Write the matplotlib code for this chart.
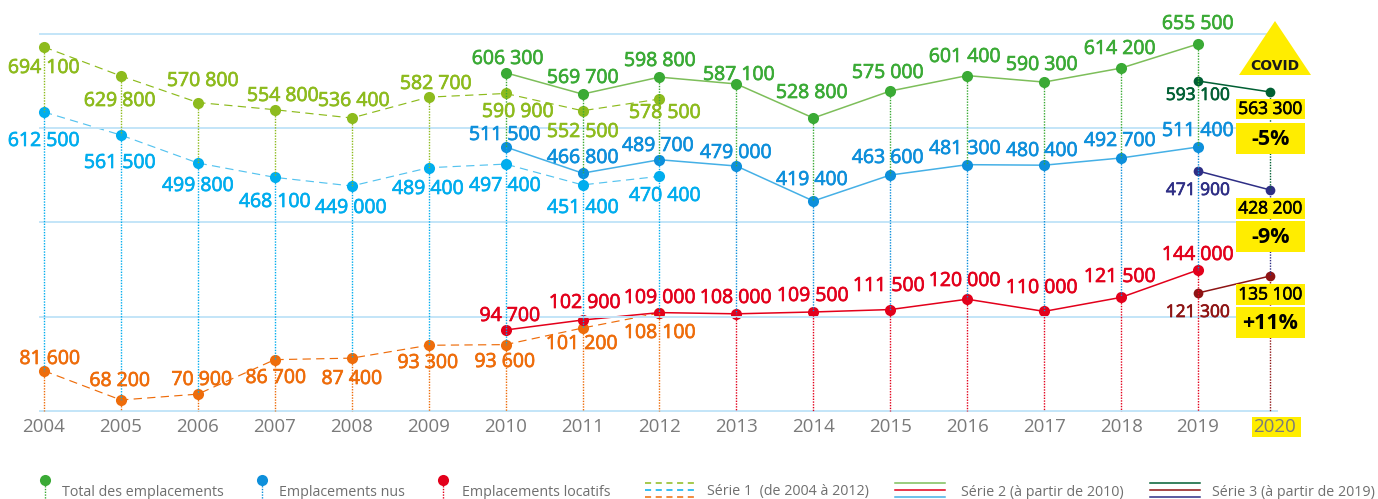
import matplotlib
matplotlib.use("Agg")
import numpy as np
import matplotlib.pyplot as plt
import matplotlib.patheffects as pe
from matplotlib.patches import Polygon, Rectangle

plt.rcParams['font.family'] = ['Open Sans', 'DejaVu Sans']

years = list(range(2004, 2021))
years_s1 = list(range(2004, 2013))
years_s2 = list(range(2010, 2020))
years_s3 = [2019, 2020]

total_s1 = [694100, 629800, 570800, 554800, 536400, 582700, 590900, 552500, 578500]
nus_s1 = [612500, 561500, 499800, 468100, 449000, 489400, 497400, 451400, 470400]
loc_s1 = [81600, 68200, 70900, 86700, 87400, 93300, 93600, 101200, 108100]

total_s2 = [606300, 569700, 598800, 587100, 528800, 575000, 601400, 590300, 614200, 655500]
nus_s2 = [511500, 466800, 489700, 479000, 419400, 463600, 481300, 480400, 492700, 511400]
loc_s2 = [94700, 102900, 109000, 108000, 109500, 111500, 120000, 110000, 121500, 144000]

total_s3 = [593100, 563300]
nus_s3 = [471900, 428200]
loc_s3 = [121300, 135100]

# chaque courbe a sa propre echelle dans l'original : (valeur, pixel) x 2
scales = {
    'total_s1': (694100, 47, 536400, 118),
    'nus_s1': (612500, 112, 449000, 186),
    'loc_s1': (108100, 313, 68200, 400),
    'total_s2': (655500, 44, 528800, 118),
    'nus_s2': (511400, 147, 419400, 201),
    'loc_s2': (144000, 270, 94700, 330),
    'total_s3': (593100, 81, 563300, 92),
    'nus_s3': (471900, 171, 428200, 190),
    'loc_s3': (121300, 293, 135100, 276),
}

# centre des etiquettes, en pixels
lab_total_s1 = [(44, 67), (120, 100), (203, 80), (283, 95), (354, 100), (436, 83), (518, 111), (583, 131), (665, 112)]
lab_nus_s1 = [(44, 140), (120, 162), (198, 185), (275, 201), (351, 207), (428, 188), (505, 185), (583, 207), (665, 195)]
lab_loc_s1 = [(50, 358), (120, 380), (202, 379), (276, 377), (352, 378), (428, 362), (505, 361), (582, 343), (660, 332)]
lab_total_s2 = [(508, 58), (583, 77), (660, 60), (739, 74), (812, 92), (888, 72), (965, 56), (1042, 64), (1120, 48), (1198, 23)]
lab_nus_s2 = [(505, 134), (583, 157), (658, 145), (736, 152), (812, 179), (888, 157), (965, 148), (1042, 150), (1120, 140), (1198, 130)]
lab_loc_s2 = [(510, 315), (585, 302), (660, 297), (736, 297), (813, 295), (889, 285), (965, 280), (1042, 287), (1120, 276), (1198, 254)]

LIME = '#8DBB1D'
GREEN = '#3AAA35'
GREEN_L = '#7DBE5A'
SKY = '#00ADEE'
SKY_L = '#55C3EF'
BLUE = '#0D8FDB'
BLUE_L = '#45B0E6'
ORANGE = '#EE6C0A'
RED = '#E3001B'
D_GREEN = '#005F33'
D_BLUE = '#2E2E85'
D_RED = '#8E1414'
YELLOW = '#FFED00'
GRID = '#C3E5F8'
GREY = '#7A7A7A'

W, H = 1378, 499
TOP, BOTTOM = 34, 411
X0, XSTEP = 44, (1198 - 44) / 15


def xpos(y):
    # les points de 2020 sont un peu resserres dans l'original
    return y - 0.06 if y == 2020 else y


def fmt(v):
    return f"{v:,}".replace(",", " ")


fig = plt.figure(figsize=(W / 100, H / 100), dpi=100)
rect = [0, (H - BOTTOM) / H, 1, (BOTTOM - TOP) / H]
xlim = (2004 - X0 / XSTEP, 2004 + (W - X0) / XSTEP)

base = fig.add_axes(rect)
base.set_xlim(xlim)
base.set_ylim(0, 1)
base.set_xticks(years)
base.set_xticklabels(years, fontsize=13.5, color=GREY)
base.tick_params(axis='x', length=0, pad=5)
base.set_yticks([])
for s in base.spines.values():
    s.set_visible(False)
base.patch.set_visible(False)

overlay = fig.add_axes([0, 0, 1, 1], zorder=10)
overlay.set_xlim(0, W)
overlay.set_ylim(H, 0)
overlay.axis('off')

# fond jaune de 2020 sous le libelle de l'axe
base.add_patch(Rectangle((1252, 417), 49, 20, fc=YELLOW, ec='none', transform=overlay.transData,
                         clip_on=False, zorder=0.5))

axes = {}
z = 1
for name, (v1, p1, v2, p2) in scales.items():
    a = fig.add_axes(rect, zorder=z)
    z += 1
    slope = (v2 - v1) / (p2 - p1)
    a.set_xlim(xlim)
    a.set_ylim(v1 + (BOTTOM - p1) * slope, v1 + (TOP - p1) * slope)
    a.axis('off')
    axes[name] = a


def px_y(name, v):
    pt = axes[name].transData.transform((xlim[0], v))
    return overlay.transData.inverted().transform(pt)[1]


def draw(name, yrs, vals, line, mark, size, dashed):
    x = [xpos(y) for y in yrs]
    ls = (0, (7, 4.5)) if dashed else '-'
    axes[name].plot(x, vals, color=line, lw=0.85 if dashed else 1.1, ls=ls, zorder=2)
    axes[name].plot(x, vals, 'o', color=mark, ms=size, mew=0, zorder=3)


def labels(vals, pos, color, size=14):
    for v, (x, y) in zip(vals, pos):
        t = overlay.text(x, y + 1, fmt(v), color=color, fontsize=size, ha='center', va='center', zorder=6)
        t.set_path_effects([pe.withStroke(linewidth=0.5, foreground=color)])


for gy in [34, 128, 222, 317, 411]:
    overlay.plot([40, 1277], [gy, gy], color=GRID, lw=1.4, zorder=0)

# pointilles verticaux : du haut vers le bas pour chaque annee
for i, y in enumerate(years):
    px = X0 + (xpos(y) - 2004) * XSTEP
    if y <= 2009:
        stack = [('total_s1', total_s1[i], LIME), ('nus_s1', nus_s1[i], SKY), ('loc_s1', loc_s1[i], ORANGE)]
    elif y <= 2012:
        j = y - 2010
        k = y - 2004
        stack = [('total_s2', total_s2[j], GREEN), ('nus_s2', nus_s2[j], SKY), ('loc_s1', loc_s1[k], ORANGE)]
    elif y <= 2019:
        j = y - 2010
        stack = [('total_s2', total_s2[j], GREEN), ('nus_s2', nus_s2[j], BLUE), ('loc_s2', loc_s2[j], RED)]
    else:
        stack = [('total_s3', total_s3[1], D_GREEN), ('nus_s3', nus_s3[1], D_BLUE), ('loc_s3', loc_s3[1], D_RED)]
    tops = [px_y(n, v) for n, v, c in stack]
    ends = tops[1:] + [BOTTOM]
    for t, e, (n, v, c) in zip(tops, ends, stack):
        overlay.plot([px, px], [t, e], color=c, lw=1.0, ls=(0, (1, 1)), zorder=1)

draw('total_s1', years_s1, total_s1, LIME, LIME, 8, True)
draw('nus_s1', years_s1, nus_s1, SKY_L, SKY, 8, True)
draw('loc_s1', years_s1, loc_s1, ORANGE, ORANGE, 8, True)
draw('total_s2', years_s2, total_s2, GREEN_L, GREEN, 8, False)
draw('nus_s2', years_s2, nus_s2, BLUE_L, BLUE, 8, False)
draw('loc_s2', years_s2, loc_s2, RED, RED, 8, False)
draw('total_s3', years_s3, total_s3, D_GREEN, D_GREEN, 7, False)
draw('nus_s3', years_s3, nus_s3, D_BLUE, D_BLUE, 7, False)
draw('loc_s3', years_s3, loc_s3, D_RED, D_RED, 7, False)

labels(total_s1, lab_total_s1, LIME)
labels(nus_s1, lab_nus_s1, SKY)
labels(loc_s1, lab_loc_s1, ORANGE)
labels(total_s2, lab_total_s2, GREEN)
labels(nus_s2, lab_nus_s2, BLUE)
labels(loc_s2, lab_loc_s2, RED)
labels(total_s3[:1], [(1198, 95)], D_GREEN, 12.5)
labels(nus_s3[:1], [(1198, 190)], D_BLUE, 12.5)
labels(loc_s3[:1], [(1198, 312)], D_RED, 12.5)

# encadres jaunes 2020
for val, (y0, y1), pct, (y2, y3) in [(total_s3[1], (99, 119), '-5%', (123, 154)),
                                     (nus_s3[1], (198, 219), '-9%', (221, 252)),
                                     (loc_s3[1], (284, 305), '+11%', (307, 338))]:
    overlay.add_patch(Rectangle((1236, y0), 69, y1 - y0, fc=YELLOW, ec='none', zorder=4))
    overlay.add_patch(Rectangle((1236, y2), 69, y3 - y2, fc=YELLOW, ec='none', zorder=4))
    t = overlay.text(1270.5, (y0 + y1) / 2 + 1, fmt(val), fontsize=12.5, color='black', ha='center', va='center', zorder=5)
    t.set_path_effects([pe.withStroke(linewidth=0.4, foreground='black')])
    overlay.text(1270.5, (y2 + y3) / 2 + 1, pct, fontsize=15.5, color='black', ha='center', va='center',
                 fontweight='bold', zorder=5)

overlay.add_patch(Polygon([(1275, 21), (1239, 75), (1311, 75)], closed=True, fc=YELLOW, ec='none', zorder=4))
overlay.text(1275, 66, 'COVID', fontsize=10, fontweight='bold', color='#1a1a1a', ha='center', va='center', zorder=5,
             family=['DejaVu Sans'])

# legende
for x, c, txt, tx in [(45, GREEN, 'Total des emplacements', 62),
                      (262, BLUE, 'Emplacements nus', 279),
                      (443, RED, 'Emplacements locatifs', 462)]:
    overlay.plot([x, x], [480, 499], color=c, lw=1.0, ls=(0, (1, 1)), zorder=2, clip_on=False)
    overlay.plot([x], [480], 'o', color=c, ms=8, mew=0, zorder=3)
    overlay.text(tx, 492, txt, fontsize=10.3, color='#6F6F6F', ha='left', va='center')

for x0, cols, dash, txt, tx in [(645, [LIME, SKY, ORANGE], True, 'Série 1  (de 2004 à 2012)', 707),
                                (895, [GREEN_L, RED, BLUE_L], False, 'Série 2 (à partir de 2010)', 961),
                                (1150, [D_GREEN, D_RED, D_BLUE], False, 'Série 3 (à partir de 2019)', 1212)]:
    for c, ly in zip(cols, [483, 490, 497]):
        overlay.plot([x0, x0 + 50], [ly, ly], color=c, lw=1.1, ls=(0, (4, 3)) if dash else '-')
    overlay.text(tx, 492, txt, fontsize=10.3, color='#6F6F6F', ha='left', va='center')

fig.savefig('out.png', dpi=100)
